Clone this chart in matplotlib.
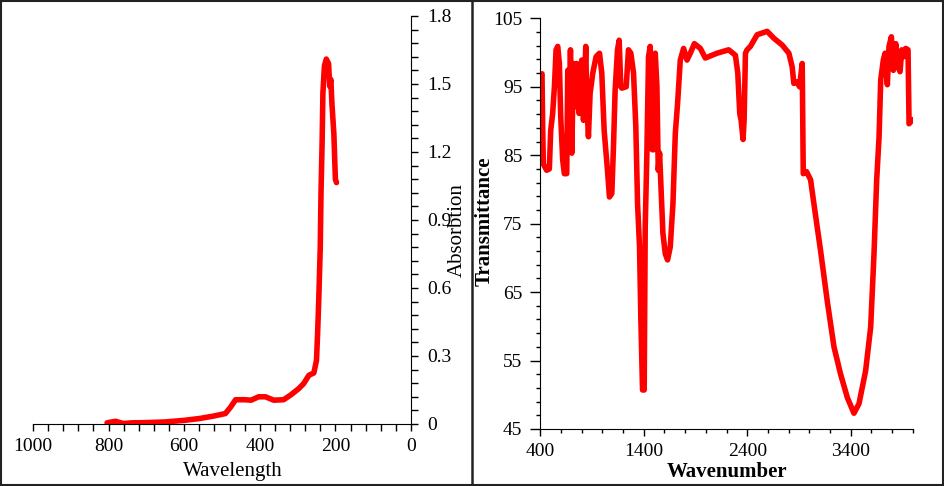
import matplotlib.pyplot as plt
from matplotlib.lines import Line2D
from matplotlib.patches import Rectangle
from matplotlib.ticker import MultipleLocator

plt.rcParams["font.family"] = ["Liberation Serif", "DejaVu Serif"]

# UV-vis spectrum (left)
uv_wl = [804, 795, 781, 770, 760, 740, 700, 650, 600, 560, 522, 491, 477, 464,
         440, 423, 403, 385, 363, 337, 319, 297, 284, 270, 257, 250, 247, 244,
         240, 238, 235, 233, 229, 224, 218, 215, 212, 209, 204, 202, 200, 197]
uv_abs = [0.005, 0.008, 0.012, 0.006, 0.002, 0.005, 0.006, 0.009, 0.016, 0.024,
          0.035, 0.046, 0.075, 0.107, 0.107, 0.105, 0.12, 0.12, 0.105, 0.107,
          0.127, 0.156, 0.178, 0.215, 0.225, 0.28, 0.40, 0.546, 0.78, 1.02,
          1.25, 1.46, 1.58, 1.61, 1.59, 1.49, 1.52, 1.41, 1.28, 1.18, 1.08, 1.065]
uv_yticks = [0, 0.3, 0.6, 0.9, 1.2, 1.5, 1.8]
uv_ylabels = ["0", "0.3", "0.6", "0.9", "1.2", "1.5", "1.8"]

# FTIR spectrum (right)
ir_wn = [400, 416, 423, 429, 461, 487, 500, 519, 536, 552, 568, 584, 597, 616,
         632, 655, 665, 678, 691, 704, 720, 739, 752, 775, 800, 817, 839, 849,
         865, 881, 907, 939, 972, 994, 1017, 1049, 1068, 1091, 1107, 1123, 1146,
         1162, 1178, 1188, 1230, 1252, 1275, 1301, 1323, 1340, 1359, 1372, 1388,
         1404, 1414, 1430, 1446, 1462, 1482, 1495, 1511, 1527, 1540, 1553, 1566,
         1585, 1608, 1630, 1656, 1682, 1705, 1727, 1753, 1785, 1818, 1850, 1889,
         1947, 1995, 2108, 2221, 2286, 2309, 2328, 2341, 2360, 2370, 2383, 2399,
         2431, 2496, 2593, 2657, 2738, 2803, 2835, 2851, 2883, 2906, 2932, 2942,
         2974, 3013, 3045, 3109, 3174, 3239, 3303, 3368, 3432, 3481, 3545, 3594,
         3626, 3652, 3675, 3691, 3716, 3733, 3755, 3771, 3794, 3813, 3836, 3859,
         3878, 3894, 3917, 3933, 3955, 3965, 3988, 4000]
ir_t = [96.5, 96.9, 88.6, 83.7, 82.8, 83.0, 88.6, 91.1, 95.0, 100.4, 100.9, 98.4,
        90.6, 84.3, 82.3, 82.3, 97.4, 86.2, 100.4, 85.3, 98.4, 92.1, 98.4, 91.1,
        98.9, 90.1, 100.9, 92.6, 87.7, 94.0, 97.0, 99.4, 99.9, 97.0, 88.6, 82.8,
        78.9, 79.4, 86.2, 94.5, 100.4, 101.8, 95.0, 94.8, 95.0, 100.4, 99.9, 97.0,
        89.2, 77.9, 71.6, 60.9, 50.7, 50.7, 74.5, 85.3, 99.4, 100.9, 85.8, 85.8,
        99.9, 95.0, 82.8, 85.3, 80.4, 73.6, 70.6, 69.7, 71.6, 77.9, 88.2, 92.6,
        98.9, 100.6, 98.9, 99.9, 101.3, 100.6, 99.2, 99.9, 100.4, 99.6, 97.0,
        91.1, 90.1, 87.3, 90.1, 99.9, 100.4, 100.9, 102.6, 103.1, 102.1, 101.1,
        99.9, 97.9, 95.5, 95.7, 95.0, 98.4, 82.3, 82.6, 81.4, 77.9, 71.1, 63.7,
        57.0, 53.0, 49.6, 47.3, 48.7, 53.5, 59.9, 70.6, 81.4, 87.7, 96.0, 98.9,
        99.9, 95.3, 100.9, 102.3, 97.4, 101.3, 97.9, 97.2, 100.4, 99.4, 100.6,
        100.4, 89.6, 90.0, 90.2]
ir_xticks = [400, 1400, 2400, 3400]
ir_yticks = [45, 55, 65, 75, 85, 95, 105]

fig = plt.figure(figsize=(9.45, 4.86), dpi=100)

# ---- left: absorption
ax1 = fig.add_axes([0.0349, 0.1276, 0.4, 0.8395])
ax1.plot(uv_wl, uv_abs, color="red", lw=4, solid_capstyle="round")
ax1.set_xlim(1000, 0)
ax1.set_ylim(0, 1.8)
ax1.xaxis.set_major_locator(MultipleLocator(200))
ax1.xaxis.set_minor_locator(MultipleLocator(40))
ax1.set_yticks(uv_yticks, uv_ylabels)
ax1.yaxis.set_minor_locator(MultipleLocator(0.06))
ax1.yaxis.tick_right()
ax1.yaxis.set_label_position("right")
for s in ["top", "left"]:
    ax1.spines[s].set_visible(False)
ax1.tick_params(which="both", direction="out", length=5, width=1, labelsize=14)
ax1.tick_params(axis="y", which="both", pad=7)
ax1.tick_params(axis="x", which="both", pad=5)
ax1.set_xlabel("Wavelength", fontsize=15)
ax1.set_ylabel("Absorbtion", fontsize=15)
ax1.xaxis.set_label_coords(0.529, -0.093)
ax1.yaxis.set_label_coords(1.098, 0.475)

# ---- right: FTIR
ax2 = fig.add_axes([0.5718, 0.1173, 0.394, 0.845])
ax2.plot(ir_wn, ir_t, color="red", lw=4, solid_capstyle="round")
ax2.set_xlim(400, 4000)
ax2.set_ylim(45, 105)
ax2.set_xticks(ir_xticks)
ax2.set_xticks(range(400, 4001, 200), minor=True)
ax2.set_yticks(ir_yticks)
ax2.set_yticks(range(45, 106, 2), minor=True)
for s in ["top", "right"]:
    ax2.spines[s].set_visible(False)
ax2.tick_params(which="major", direction="out", length=5, width=1, labelsize=14)
ax2.tick_params(which="minor", direction="out", length=3, width=1)
ax2.tick_params(axis="y", which="major", length=7, pad=6)
ax2.tick_params(axis="x", which="major", pad=5)
ax2.set_xlabel("Wavenumber", fontsize=15, fontweight="bold")
ax2.set_ylabel("Transmittance", fontsize=15, fontweight="bold")
ax2.xaxis.set_label_coords(0.501, -0.080)
ax2.yaxis.set_label_coords(-0.122, 0.505)

# frame around the figure and divider between panels
fig.add_artist(Rectangle((0.001, 0.002), 0.997, 0.995, transform=fig.transFigure,
                         fill=False, edgecolor="#222222", lw=1.5))
fig.add_artist(Line2D([0.5, 0.5], [0.0, 1.0], transform=fig.transFigure,
                      color="#222222", lw=1.8))

fig.savefig("out.png", dpi=100)
